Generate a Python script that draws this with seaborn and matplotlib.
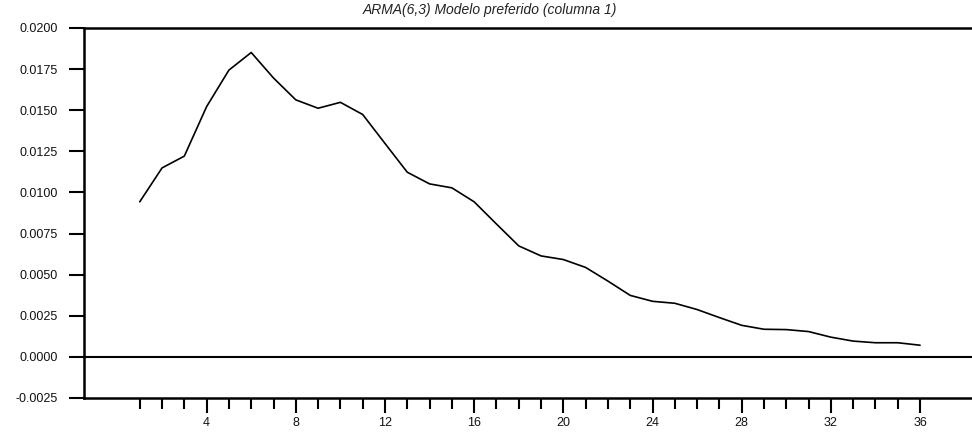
import matplotlib
matplotlib.use("Agg")
import matplotlib.pyplot as plt
import numpy as np
import pandas as pd
import seaborn as sns
from matplotlib.ticker import FixedLocator, FormatStrFormatter

# impulse response values
periods = list(range(1, 37))
response = [
    0.00943, 0.01149, 0.01221, 0.01522, 0.01744, 0.01851, 0.01696, 0.01563,
    0.01512, 0.01548, 0.01474, 0.01298, 0.01123, 0.01052, 0.01028, 0.00943,
    0.00808, 0.00675, 0.00614, 0.00592, 0.00544, 0.00461, 0.00374, 0.00338,
    0.00326, 0.00288, 0.00239, 0.00192, 0.00168, 0.00166, 0.00154, 0.00120,
    0.00096, 0.00086, 0.00086, 0.00071,
]
y_ticks = [-0.0025, 0.0, 0.0025, 0.0050, 0.0075, 0.0100, 0.0125, 0.0150, 0.0175, 0.0200]
x_major = [4, 8, 12, 16, 20, 24, 28, 32, 36]
title = "ARMA(6,3) Modelo preferido (columna 1)"

sns.set_style("ticks")
plt.rcParams["font.family"] = ["Liberation Sans", "DejaVu Sans"]

df = pd.DataFrame({"period": periods, "response": response})

fig = plt.figure(figsize=(9.72, 4.37), dpi=100)
ax = fig.add_axes([84 / 972, 1 - 398 / 437, 1 - 84 / 972, (398 - 28) / 437])

sns.lineplot(data=df, x="period", y="response", color="black", linewidth=1.2, ax=ax)
ax.axhline(0, color="black", linewidth=1.5)

ax.set_xlim(-1.5, 38.33)
ax.set_ylim(-0.0025, 0.0200)
ax.set_yticks(y_ticks)
ax.yaxis.set_major_formatter(FormatStrFormatter("%.4f"))
ax.xaxis.set_major_locator(FixedLocator(x_major))
ax.xaxis.set_minor_locator(FixedLocator([p for p in periods if p not in x_major]))

ax.tick_params(axis="both", which="major", length=11, width=1.5, color="black",
               labelsize=9, labelcolor="#111111", direction="out")
ax.tick_params(axis="x", which="minor", length=8, width=1.5, color="black", direction="out")
ax.tick_params(axis="x", which="major", pad=3)
ax.tick_params(axis="y", which="major", pad=8)

for side in ["left", "top", "bottom"]:
    ax.spines[side].set_linewidth(1.8)
    ax.spines[side].set_color("black")
ax.spines["right"].set_visible(False)

ax.set_xlabel("")
ax.set_ylabel("")
fig.text(490 / 972, 1 - 10 / 437, title, ha="center", va="center",
         fontsize=10, style="italic", color="#222222")

fig.savefig("out.png", dpi=100)
